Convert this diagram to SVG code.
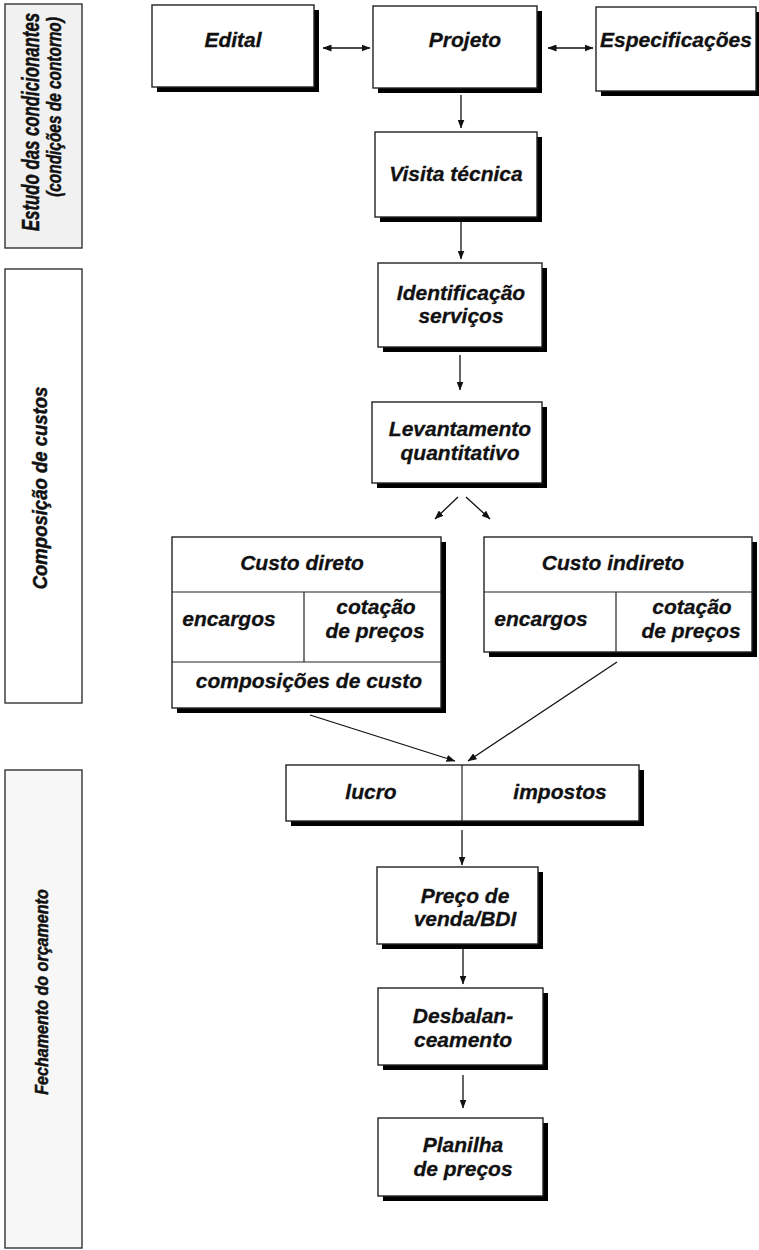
<svg xmlns="http://www.w3.org/2000/svg" width="759" height="1250" viewBox="0 0 759 1250">
<style>
.t{font-family:"Liberation Sans",Arial,sans-serif;font-weight:bold;font-style:italic;font-size:21px;fill:#111;stroke:#111;stroke-width:0.3;text-anchor:middle}
.bt{font-family:"Liberation Sans",Arial,sans-serif;font-weight:bold;font-style:italic;fill:#111;stroke:#111;stroke-width:0.5;text-anchor:middle}
.box{fill:#fff;stroke:#222;stroke-width:1.4}
.sh{fill:#000}
.band{stroke:#333;stroke-width:1.4}
.div{stroke:#222;stroke-width:1.2;fill:none}
.c{stroke:#111;stroke-width:1.3;fill:none}
</style>
<defs>
<marker id="ah" markerWidth="9" markerHeight="7" refX="8.5" refY="3.5" orient="auto-start-reverse" markerUnits="userSpaceOnUse">
<path d="M0,0 L9,3.5 L0,7 z" fill="#111"/>
</marker>
</defs>

<g id="band1">
<rect class="band" x="5" y="4" width="77" height="244" fill="#f1f1f1"/>
<text class="bt" font-size="23" transform="translate(39,122) rotate(-90) scale(0.73,1)">Estudo das condicionantes</text>
<text class="bt" font-size="19.5" transform="translate(61,107) rotate(-90) scale(0.79,1)">(condições de contorno)</text>
</g>
<g id="band2">
<rect class="band" x="5" y="269" width="77" height="434" fill="#fff"/>
<text class="bt" font-size="19.5" transform="translate(47,488) rotate(-90) scale(0.95,1)">Composição de custos</text>
</g>
<g id="band3">
<rect class="band" x="5" y="770" width="77" height="478" fill="#f7f7f7"/>
<text class="bt" font-size="18.5" transform="translate(48,992) rotate(-90) scale(0.87,1)">Fechamento do orçamento</text>
</g>

<g id="edital">
<rect class="sh" x="157" y="10" width="162" height="82"/>
<rect class="box" x="152" y="5" width="162" height="82"/>
<text class="t" x="233" y="47">Edital</text>
</g>
<g id="projeto">
<rect class="sh" x="378" y="11" width="164" height="82"/>
<rect class="box" x="373" y="6" width="164" height="82"/>
<text class="t" x="465" y="47">Projeto</text>
</g>
<g id="especificacoes">
<rect class="sh" x="601" y="12" width="160" height="84"/>
<rect class="box" x="596" y="7" width="160" height="84"/>
<text class="t" x="676" y="47">Especificações</text>
</g>
<g id="visita">
<rect class="sh" x="380" y="137" width="162" height="85"/>
<rect class="box" x="375" y="132" width="162" height="85"/>
<text class="t" x="456" y="181">Visita técnica</text>
</g>
<g id="identificacao">
<rect class="sh" x="383" y="268" width="164" height="84"/>
<rect class="box" x="378" y="263" width="164" height="84"/>
<text class="t" x="461" y="300">Identificação</text>
<text class="t" x="461" y="323">serviços</text>
</g>
<g id="levantamento">
<rect class="sh" x="377" y="407" width="170" height="81"/>
<rect class="box" x="372" y="402" width="170" height="81"/>
<text class="t" x="460" y="436">Levantamento</text>
<text class="t" x="460" y="460">quantitativo</text>
</g>

<g id="custo-direto">
<rect class="sh" x="177" y="542" width="269" height="171"/>
<rect class="box" x="172" y="537" width="269" height="171"/>
<line class="div" x1="172" y1="592" x2="441" y2="592"/>
<line class="div" x1="172" y1="662" x2="441" y2="662"/>
<line class="div" x1="304" y1="592" x2="304" y2="662"/>
<text class="t" x="302" y="570">Custo direto</text>
<text class="t" x="229" y="626">encargos</text>
<text class="t" x="376" y="614">cotação</text>
<text class="t" x="375" y="638">de preços</text>
<text class="t" x="309" y="688">composições de custo</text>
</g>
<g id="custo-indireto">
<rect class="sh" x="489" y="542" width="268" height="115"/>
<rect class="box" x="484" y="537" width="268" height="115"/>
<line class="div" x1="484" y1="592" x2="752" y2="592"/>
<line class="div" x1="616" y1="592" x2="616" y2="652"/>
<text class="t" x="613" y="570">Custo indireto</text>
<text class="t" x="541" y="626">encargos</text>
<text class="t" x="692" y="614">cotação</text>
<text class="t" x="691" y="638">de preços</text>
</g>

<g id="lucro-impostos">
<rect class="sh" x="291" y="770" width="353" height="56"/>
<rect class="box" x="286" y="765" width="353" height="56"/>
<line class="div" x1="462" y1="765" x2="462" y2="821"/>
<text class="t" x="371" y="799">lucro</text>
<text class="t" x="560" y="799">impostos</text>
</g>
<g id="preco">
<rect class="sh" x="382" y="872" width="161" height="77"/>
<rect class="box" x="377" y="867" width="161" height="77"/>
<text class="t" x="465" y="903">Preço de</text>
<text class="t" x="465" y="926">venda/BDI</text>
</g>
<g id="desbalanceamento">
<rect class="sh" x="383" y="993" width="165" height="77"/>
<rect class="box" x="378" y="988" width="165" height="77"/>
<text class="t" x="463" y="1023">Desbalan-</text>
<text class="t" x="463" y="1047">ceamento</text>
</g>
<g id="planilha">
<rect class="sh" x="383" y="1123" width="165" height="78"/>
<rect class="box" x="378" y="1118" width="165" height="78"/>
<text class="t" x="463" y="1152">Planilha</text>
<text class="t" x="463" y="1176">de preços</text>
</g>

<g id="connectors">
<line class="c" x1="323" y1="48" x2="370" y2="48" marker-start="url(#ah)" marker-end="url(#ah)"/>
<line class="c" x1="548" y1="48" x2="593" y2="48" marker-start="url(#ah)" marker-end="url(#ah)"/>
<line class="c" x1="461" y1="95" x2="461" y2="128" marker-end="url(#ah)"/>
<line class="c" x1="461" y1="222" x2="461" y2="259" marker-end="url(#ah)"/>
<line class="c" x1="460" y1="355" x2="460" y2="390" marker-end="url(#ah)"/>
<line class="c" x1="458" y1="497" x2="435" y2="519" marker-end="url(#ah)"/>
<line class="c" x1="466" y1="497" x2="490" y2="519" marker-end="url(#ah)"/>
<line class="c" x1="310" y1="715" x2="455" y2="761" marker-end="url(#ah)"/>
<line class="c" x1="617" y1="662" x2="468" y2="761" marker-end="url(#ah)"/>
<line class="c" x1="462" y1="830" x2="462" y2="865" marker-end="url(#ah)"/>
<line class="c" x1="463" y1="948" x2="463" y2="984" marker-end="url(#ah)"/>
<line class="c" x1="463" y1="1075" x2="463" y2="1108" marker-end="url(#ah)"/>
</g>
</svg>
